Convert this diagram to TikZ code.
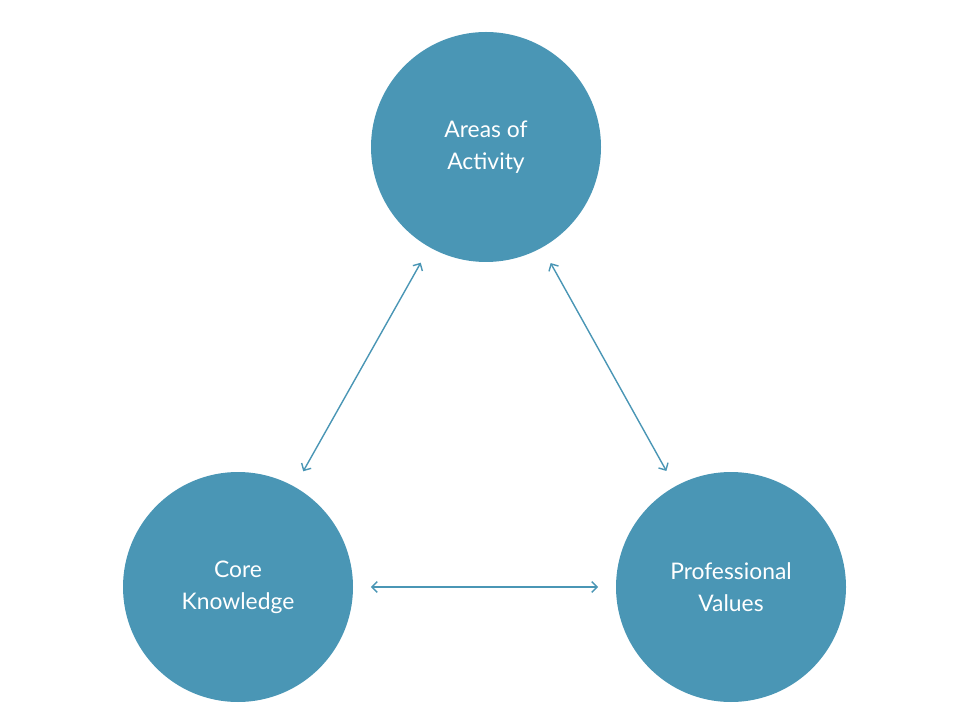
\documentclass[tikz,border=0pt]{standalone}
\usepackage{fontspec}
\setmainfont{Lato}
\usetikzlibrary{positioning}
\usetikzlibrary{arrows.meta}
\definecolor{tealblue}{HTML}{4A96B5}

\begin{document}
\begin{tikzpicture}[every node/.style={circle, fill=tealblue, text=white, minimum size=4.6cm, align=center, font=\fontsize{13}{18}\selectfont}]
            \useasboundingbox (0,0) rectangle (19.2,14.4);
            % Nodos
            \node (areas) at (9.72,11.46) {Areas of\\Activity};
            \node (core) at (4.76,2.66) {Core\\Knowledge};
            \node (values) at (14.62,2.66) {Professional\\Values};

            % Aristas
            \draw[{Straight Barb[]}-{Straight Barb[]}, thick, tealblue, shorten >=0.35cm, shorten <=0.35cm] (areas) -- (core);
            \draw[{Straight Barb[]}-{Straight Barb[]}, thick, tealblue, shorten >=0.35cm, shorten <=0.35cm] (areas) -- (values);
            \draw[{Straight Barb[]}-{Straight Barb[]}, thick, tealblue, shorten >=0.35cm, shorten <=0.35cm] (core) -- (values);
          \end{tikzpicture}
\end{document}
